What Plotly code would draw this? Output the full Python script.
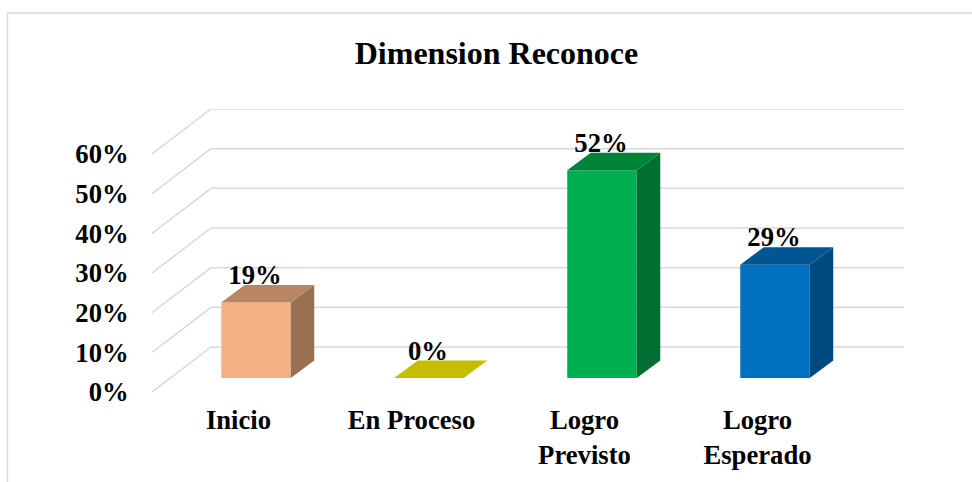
import plotly.graph_objects as go

# ---- data ----
categories = ["Inicio", "En Proceso", "Logro<br>Previsto", "Logro<br>Esperado"]
values = [19.05, 0, 52.38, 28.57]
y_ticks = [0, 10, 20, 30, 40, 50, 60]
front_colors = ["#F4B183", "#C4BD00", "#00B050", "#0070C0"]
top_colors = ["#B98562", "#C4BD00", "#008439", "#005592"]
side_colors = ["#9A7053", "#C4BD00", "#006F31", "#004A80"]
title = "Dimension Reconoce"

# ---- pixel layout of the plot area ----
W, H = 972, 482
L, R, T, B = 152, 904, 109, 392
PX_PER_CAT = 173.0
PX_PER_PCT = 39.67 / 10
xpx = lambda v: v / PX_PER_CAT
ypx = lambda v: v / PX_PER_PCT

x_range = [-0.5, -0.5 + (R - L) / PX_PER_CAT]
y_range = [0, (B - T) / PX_PER_PCT]

floor_dx, floor_dy = xpx(59), ypx(45)
bar_shift = xpx(17.5)
bar_w = xpx(69.5)
bar_base = ypx(14)
bar_dx, bar_dy = xpx(23.5), ypx(17.5)
label_gap = ypx(25)
label_shift = xpx(-1)

FONT = "Liberation Serif"
fig = go.Figure()

positions = list(range(len(categories)))
centers = [p + bar_shift for p in positions]

# front faces
fig.add_trace(go.Bar(
    x=centers, y=values, base=bar_base, width=bar_w,
    marker=dict(color=front_colors, line=dict(width=0)),
    showlegend=False, hoverinfo="skip",
))

# top and side faces
for c, v, tc, sc in zip(centers, values, top_colors, side_colors):
    x0, x1 = c - bar_w / 2, c + bar_w / 2
    y0, y1 = bar_base, bar_base + v
    if v > 0:
        fig.add_trace(go.Scatter(
            x=[x1, x1 + bar_dx, x1 + bar_dx, x1, x1],
            y=[y0, y0 + bar_dy, y1 + bar_dy, y1, y0],
            fill="toself", fillcolor=sc, mode="lines", line=dict(width=0),
            showlegend=False, hoverinfo="skip",
        ))
    fig.add_trace(go.Scatter(
        x=[x0, x0 + bar_dx, x1 + bar_dx, x1, x0],
        y=[y1, y1 + bar_dy, y1 + bar_dy, y1, y1],
        fill="toself", fillcolor=tc, mode="lines", line=dict(width=0),
        showlegend=False, hoverinfo="skip",
    ))

# value labels
fig.add_trace(go.Scatter(
    x=[c + label_shift for c in centers], y=[bar_base + v + label_gap for v in values],
    mode="text", text=[f"<b>{v:.0f}%</b>" for v in values], textposition="middle center",
    textfont=dict(family=FONT, size=26.67, color="#000000"),
    showlegend=False, hoverinfo="skip", cliponaxis=False,
))

# gridlines (floor diagonal + back wall), behind the bars
shapes = []
for t in y_ticks:
    for x0, y0, x1, y1 in [
        (x_range[0], t, x_range[0] + floor_dx, t + floor_dy),
        (x_range[0] + floor_dx, t + floor_dy, x_range[1], t + floor_dy),
    ]:
        shapes.append(dict(type="line", xref="x", yref="y", x0=x0, y0=y0, x1=x1, y1=y1,
                           layer="below", line=dict(color="#D9D9D9", width=1.5)))

# chart frame
pw, ph = R - L, B - T
fx = lambda p: (p - L) / pw
fy = lambda p: (B - p) / ph
shapes.append(dict(type="rect", xref="paper", yref="paper",
                   x0=fx(7.5), x1=fx(990), y0=fy(13), y1=fy(500),
                   layer="below", line=dict(color="#D9D9D9", width=1.5)))

fig.update_layout(
    width=W, height=H,
    margin=dict(l=L, r=W - R, t=T, b=H - B, pad=0, autoexpand=False),
    paper_bgcolor="white", plot_bgcolor="rgba(0,0,0,0)",
    title=dict(text=f"<b>{title}</b>", x=496.5 / W, xanchor="center",
               y=1 - 53 / H, yanchor="middle", automargin=False,
               font=dict(family=FONT, size=32, color="#000000")),
    shapes=shapes, showlegend=False,
    xaxis=dict(range=x_range, tickmode="array", tickvals=positions,
               ticktext=[f"<b>{c.replace('<br>', '</b><br><b>')}</b>" for c in categories],
               showgrid=False, zeroline=False, showline=False, ticks="outside",
               ticklen=4, tickcolor="rgba(0,0,0,0)", automargin=False,
               tickfont=dict(family=FONT, size=26.67, color="#000000")),
    yaxis=dict(range=y_range, tickmode="array", tickvals=y_ticks,
               ticktext=[f"<b>{t}%</b>" for t in y_ticks],
               showgrid=False, zeroline=False, showline=False, ticks="outside",
               ticklen=17, tickcolor="rgba(0,0,0,0)", automargin=False,
               tickfont=dict(family=FONT, size=26.67, color="#000000")),
    font=dict(family=FONT),
)

fig.write_html("out.html", config={"displayModeBar": False},
               post_script="document.body.style.margin='0';")
